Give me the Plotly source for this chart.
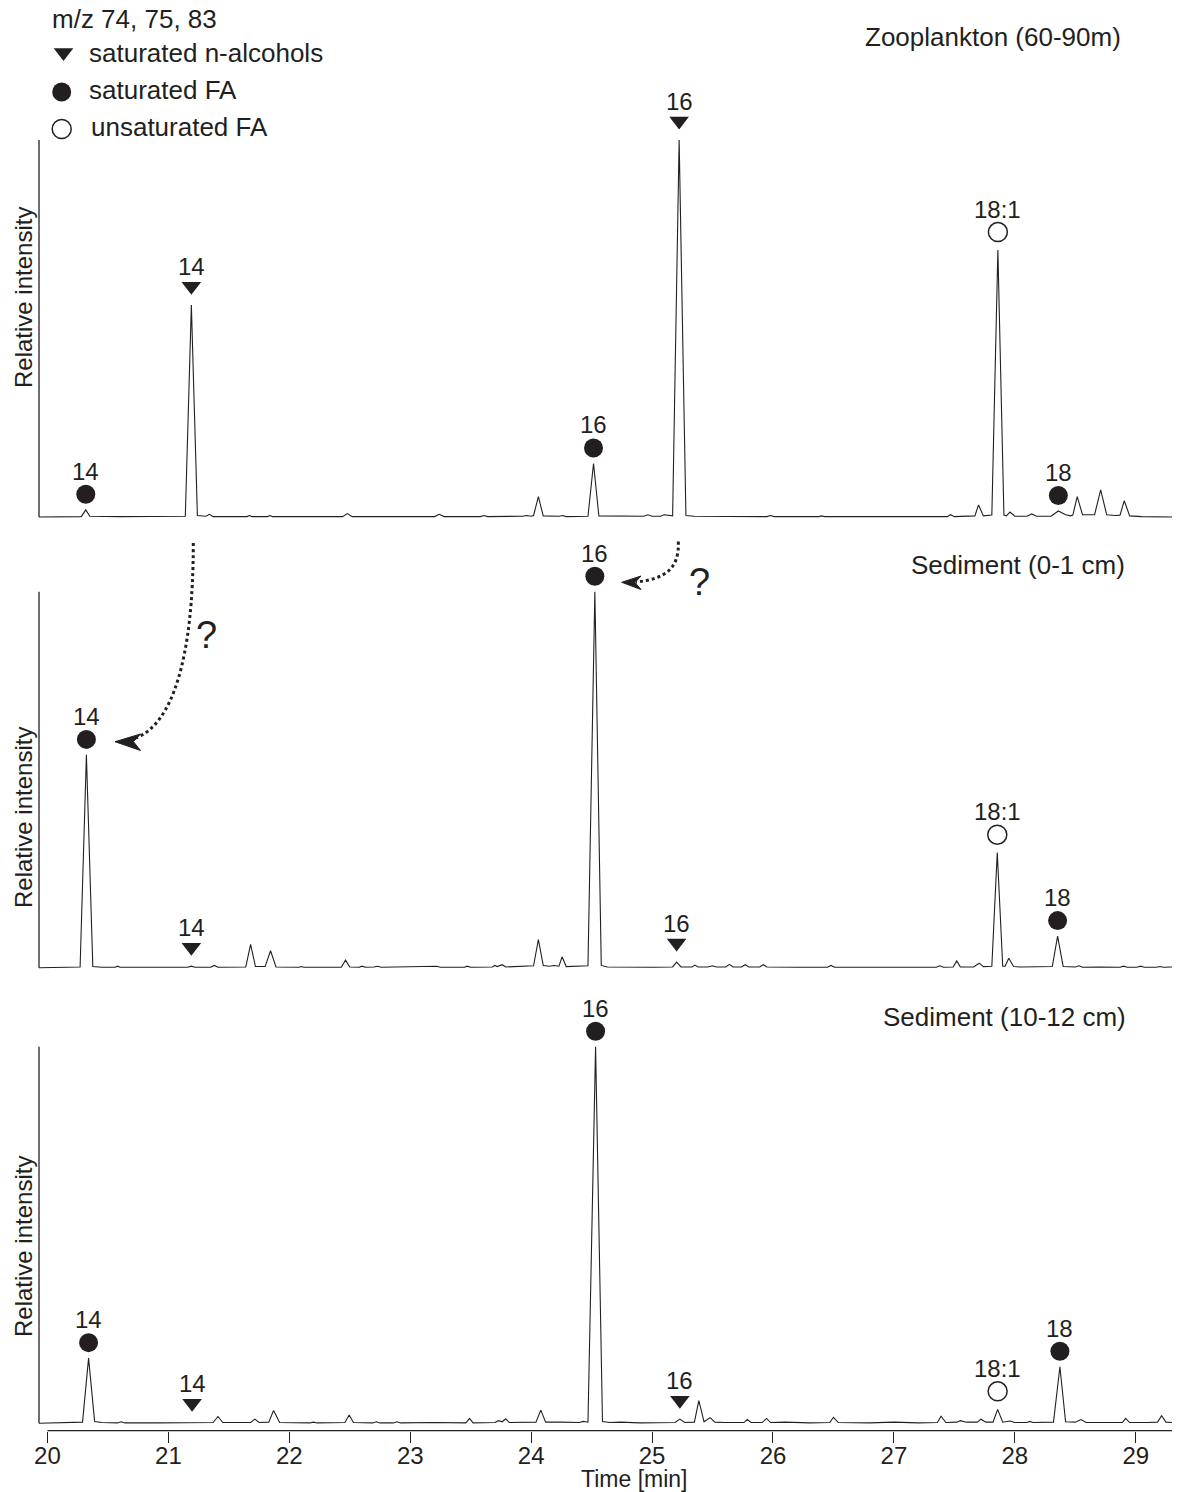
import plotly.graph_objects as go

# ---------------- data ----------------
# chromatogram vertices: (retention time [min], relative intensity [% of panel height])
zoo_points = [
    (19.93, 0.0), (20.28, 0.1), (20.317, 1.9), (20.35, 0.2), (20.60, 0.1),
    (21.14, 0.2), (21.19, 56.2), (21.24, 0.4), (21.31, 0.2), (21.34, 0.7), (21.37, 0.1),
    (21.65, 0.1), (21.67, 0.4), (21.69, 0.1), (21.82, 0.1), (21.84, 0.4), (21.86, 0.1),
    (22.44, 0.1), (22.48, 0.9), (22.52, 0.1), (23.20, 0.1), (23.24, 0.7), (23.28, 0.1),
    (23.58, 0.1), (23.61, 0.4), (23.64, 0.1), (23.93, 0.2), (23.96, 0.4), (24.00, 0.2),
    (24.02, 0.4), (24.06, 5.4), (24.10, 0.3), (24.23, 0.2), (24.26, 0.4), (24.29, 0.1),
    (24.47, 0.2), (24.516, 14.2), (24.56, 0.3), (24.93, 0.2), (24.965, 0.6), (25.00, 0.2),
    (25.07, 0.2), (25.10, 0.6), (25.17, 0.3), (25.224, 100.0), (25.28, 0.4), (25.35, 0.2),
    (25.95, 0.1), (25.98, 0.4), (26.01, 0.1), (26.38, 0.1), (26.40, 0.3), (26.43, 0.1),
    (26.53, 0.1), (26.56, 0.3), (26.59, 0.1), (26.96, 0.1), (26.99, 0.3), (27.02, 0.1),
    (27.06, 0.1), (27.09, 0.3), (27.12, 0.1), (27.44, 0.1), (27.47, 0.6), (27.50, 0.1),
    (27.67, 0.3), (27.70, 3.2), (27.74, 0.3), (27.81, 0.5), (27.86, 70.8), (27.91, 0.5),
    (27.93, 0.3), (27.96, 1.3), (28.00, 0.2), (28.10, 0.2), (28.14, 0.8), (28.18, 0.2),
    (28.30, 0.2), (28.36, 1.6), (28.42, 0.6), (28.46, 0.3), (28.48, 0.5), (28.516, 5.4),
    (28.56, 0.6), (28.62, 0.5), (28.66, 0.6), (28.71, 7.2), (28.76, 0.6), (28.83, 0.4),
    (28.87, 0.5), (28.905, 4.3), (28.95, 0.3), (29.05, 0.1), (29.30, 0.0),
]

sed01_points = [
    (19.93, 0.0), (20.27, 0.2), (20.322, 56.6), (20.375, 0.3), (20.45, 0.1),
    (20.56, 0.1), (20.58, 0.4), (20.60, 0.1), (20.90, 0.1), (21.16, 0.1), (21.19, 0.4),
    (21.22, 0.1), (21.35, 0.1), (21.38, 0.6), (21.41, 0.1), (21.64, 0.2), (21.68, 6.2),
    (21.72, 0.3), (21.80, 0.3), (21.845, 4.5), (21.89, 0.2), (22.08, 0.1), (22.10, 0.3),
    (22.12, 0.1), (22.43, 0.1), (22.465, 2.0), (22.50, 0.2), (22.58, 0.1), (22.60, 0.4),
    (22.63, 0.1), (22.70, 0.2), (22.73, 0.4), (22.76, 0.1), (23.20, 0.2), (23.22, 0.4),
    (23.25, 0.1), (23.45, 0.1), (23.47, 0.4), (23.50, 0.1), (23.68, 0.2), (23.70, 0.6),
    (23.72, 0.3), (23.76, 0.8), (23.79, 0.2), (23.95, 0.3), (24.02, 0.5), (24.06, 7.5),
    (24.10, 0.6), (24.15, 0.4), (24.19, 0.6), (24.23, 0.4), (24.256, 2.9), (24.29, 0.3),
    (24.40, 0.3), (24.47, 0.5), (24.527, 100.0), (24.58, 0.6), (24.63, 0.2), (24.80, 0.1),
    (25.00, 0.1), (25.17, 0.2), (25.203, 1.5), (25.24, 0.2), (25.33, 0.2), (25.354, 0.7),
    (25.38, 0.2), (25.46, 0.2), (25.50, 0.5), (25.53, 0.2), (25.61, 0.2), (25.64, 0.9),
    (25.67, 0.2), (25.74, 0.2), (25.77, 0.8), (25.80, 0.2), (25.89, 0.2), (25.92, 0.8),
    (25.95, 0.2), (26.20, 0.1), (26.45, 0.1), (26.48, 0.6), (26.51, 0.1), (26.90, 0.1),
    (27.20, 0.2), (27.35, 0.1), (27.38, 0.5), (27.41, 0.1), (27.49, 0.2), (27.52, 1.8),
    (27.55, 0.2), (27.66, 0.2), (27.705, 1.2), (27.74, 0.3), (27.81, 0.4), (27.855, 30.6),
    (27.90, 0.4), (27.92, 0.4), (27.95, 2.5), (27.99, 0.3), (28.05, 0.2), (28.31, 0.3),
    (28.354, 8.4), (28.40, 0.3), (28.50, 0.2), (28.53, 0.5), (28.56, 0.1), (28.70, 0.2),
    (28.87, 0.1), (28.90, 0.4), (28.93, 0.1), (29.01, 0.1), (29.04, 0.4), (29.07, 0.1),
    (29.17, 0.1), (29.20, 0.3), (29.23, 0.1), (29.30, 0.2),
]

sed1012_points = [
    (19.93, 0.0), (20.20, 0.1), (20.29, 0.3), (20.34, 17.3), (20.39, 0.5), (20.45, 0.2),
    (20.58, 0.1), (20.61, 0.4), (20.64, 0.1), (20.90, 0.1), (21.17, 0.1), (21.196, 0.3),
    (21.22, 0.1), (21.37, 0.2), (21.41, 1.8), (21.45, 0.2), (21.68, 0.2), (21.715, 1.1),
    (21.75, 0.2), (21.83, 0.3), (21.87, 3.4), (21.92, 0.2), (22.17, 0.1), (22.20, 0.3),
    (22.23, 0.1), (22.46, 0.2), (22.495, 2.2), (22.53, 0.2), (22.69, 0.1), (22.72, 0.4),
    (22.75, 0.1), (22.86, 0.1), (22.89, 0.4), (22.92, 0.1), (23.20, 0.2), (23.46, 0.1),
    (23.49, 1.3), (23.52, 0.1), (23.70, 0.2), (23.73, 0.7), (23.76, 0.4), (23.79, 1.2),
    (23.82, 0.2), (23.95, 0.2), (24.04, 0.3), (24.08, 3.5), (24.12, 0.3), (24.25, 0.3),
    (24.40, 0.2), (24.43, 0.5), (24.47, 0.3), (24.533, 100.0), (24.59, 0.5), (24.65, 0.2),
    (24.74, 0.3), (24.90, 0.1), (25.19, 0.2), (25.23, 1.1), (25.27, 0.2), (25.35, 0.3),
    (25.387, 6.0), (25.43, 0.4), (25.48, 1.5), (25.52, 0.3), (25.60, 0.2), (25.76, 0.2),
    (25.787, 1.0), (25.82, 0.2), (25.91, 0.2), (25.947, 1.3), (25.98, 0.2), (26.10, 0.3),
    (26.30, 0.1), (26.47, 0.2), (26.50, 1.6), (26.54, 0.2), (26.80, 0.1), (27.00, 0.3),
    (27.20, 0.1), (27.36, 0.2), (27.39, 1.9), (27.43, 0.2), (27.52, 0.3), (27.55, 0.7),
    (27.60, 0.3), (27.69, 0.3), (27.72, 1.1), (27.76, 0.3), (27.82, 0.3), (27.858, 3.7),
    (27.90, 0.3), (27.96, 0.6), (28.00, 0.2), (28.10, 0.2), (28.125, 0.5), (28.15, 0.2),
    (28.32, 0.3), (28.373, 15.0), (28.42, 0.4), (28.50, 0.3), (28.547, 1.0), (28.59, 0.2),
    (28.75, 0.2), (28.89, 0.2), (28.916, 1.3), (28.95, 0.2), (29.10, 0.2), (29.18, 0.3),
    (29.214, 2.0), (29.25, 0.3), (29.30, 0.2),
]

# identified compounds: retention time of the labelled apex, label, compound class
zoo_label_time = [20.317, 21.19, 24.516, 25.224, 27.86, 28.36]
sed01_label_time = [20.322, 21.19, 24.527, 25.203, 27.855, 28.354]
sed1012_label_time = [20.34, 21.196, 24.533, 25.23, 27.858, 28.373]
label_text = ["14", "14", "16", "16", "18:1", "18"]
label_class = ["FA", "ALC", "FA", "ALC", "UFA", "FA"]

panel_titles = ["Zooplankton (60-90m)", "Sediment (0-1 cm)", "Sediment (10-12 cm)"]
class_names = {"ALC": "saturated n-alcohols", "FA": "saturated FA", "UFA": "unsaturated FA"}
legend_title = "m/z 74, 75, 83"
tick_values = [20, 21, 22, 23, 24, 25, 26, 27, 28, 29]
x_title = "Time [min]"
y_title = "Relative intensity"

# ---------------- layout geometry (pixels) ----------------
W, H = 1182, 1492
ML, MR = 39, 10
PW = W - ML - MR
X_RANGE = [19.93, 29.30]
PAD = 0.5          # intensity units below 0
HEAD_PX = 32       # room above 100 % for markers (px)
FONT = "Liberation Sans, Arial, Helvetica, sans-serif"
INK = "#231f20"

def fx(px):
    return (px - ML) / PW

def fy(py):
    return 1 - py / H

# (pixel of intensity 0, pixel of intensity 100, title y, title right x, y-title centre)
panel_geom = [
    (517.0, 140.0, 36.5, 1123.0, 298.0),
    (967.7, 591.7, 565.0, 1126.5, 818.0),
    (1423.3, 1046.7, 1016.5, 1128.0, 1247.0),
]
panel_data = [
    (zoo_points, zoo_label_time),
    (sed01_points, sed01_label_time),
    (sed1012_points, sed1012_label_time),
]

# marker centre / label centre offsets above the apex (px)
MARK_OFF = {"ALC": 19.0, "FA": 15.5, "UFA": 18.0}
LABEL_OFF = {"ALC": 39.0, "FA": 38.5, "UFA": 41.0}
SYMBOL = {"ALC": ("triangle-down", 17), "FA": ("circle", 19), "UFA": ("circle-open", 19)}

fig = go.Figure()
annotations = []
shapes = []
layout_axes = {}

for k, ((pts, ltimes), (y0px, y100px, ty, trx, ylab_y)) in enumerate(zip(panel_data, panel_geom)):
    n = "" if k == 0 else str(k + 1)
    xa, ya = "x" + n, "y" + n
    ppu = (y0px - y100px) / 100.0
    ytop = 100.0 + HEAD_PX / ppu
    dom = [fy(y0px + PAD * ppu), fy(y100px - HEAD_PX)]
    times = [p[0] for p in pts]
    ints = [p[1] for p in pts]
    fig.add_trace(go.Scatter(x=times, y=ints, mode="lines", xaxis=xa, yaxis=ya,
                             line=dict(color=INK, width=1.1), showlegend=False,
                             hoverinfo="skip"))
    apex = dict(zip(times, ints))
    for cls in ["ALC", "FA", "UFA"]:
        sel = [i for i, c in enumerate(label_class) if c == cls]
        xs = [ltimes[i] for i in sel]
        ys = [apex[ltimes[i]] + MARK_OFF[cls] / ppu for i in sel]
        sym, size = SYMBOL[cls]
        fig.add_trace(go.Scatter(
            x=xs, y=ys, mode="markers", xaxis=xa, yaxis=ya, cliponaxis=False,
            marker=dict(symbol=sym, size=size, color=INK,
                        line=dict(color=INK, width=1.5 if cls == "UFA" else 0)),
            showlegend=False, hoverinfo="skip"))
    for i, t in enumerate(ltimes):
        annotations.append(dict(x=t, y=apex[t], xref=xa, yref=ya, text=label_text[i],
                                showarrow=False, yshift=LABEL_OFF[label_class[i]],
                                xanchor="center", yanchor="middle",
                                font=dict(family=FONT, size=24, color=INK)))
    annotations.append(dict(x=fx(trx), y=fy(ty), xref="paper", yref="paper",
                            text=panel_titles[k], showarrow=False, xanchor="right",
                            yanchor="middle", font=dict(family=FONT, size=26, color=INK)))
    annotations.append(dict(x=fx(23), y=fy(ylab_y), xref="paper", yref="paper",
                            text=y_title, textangle=-90, showarrow=False,
                            xanchor="center", yanchor="middle",
                            font=dict(family=FONT, size=24, color=INK)))
    # intensity axis line spans 0-100 % of the panel
    shapes.append(dict(type="line", xref="paper", yref="paper", x0=0, x1=0,
                       y0=fy(y0px), y1=fy(y100px), line=dict(color=INK, width=1.3)))
    xdef = dict(domain=[0, 1], range=X_RANGE, showgrid=False, zeroline=False,
                showline=False, fixedrange=True)
    if k < 2:
        xdef.update(visible=False, anchor=ya)
    else:
        xdef.update(anchor="free", position=fy(1430.7), ticks="outside", ticklen=11,
                    tickwidth=1.3, tickcolor=INK, tickvals=tick_values,
                    ticktext=[str(v) for v in tick_values], ticklabelstandoff=-8,
                    tickfont=dict(family=FONT, size=24, color=INK))
    layout_axes["xaxis" + n] = xdef
    layout_axes["yaxis" + n] = dict(domain=dom, range=[-PAD, ytop], anchor=xa,
                                    showline=False, ticks="", showticklabels=False,
                                    showgrid=False, zeroline=False, fixedrange=True)

# bottom time axis line (starts at 20 min)
shapes.append(dict(type="line", xref="x3", yref="paper", x0=20, x1=X_RANGE[1],
                   y0=fy(1430.7), y1=fy(1430.7), line=dict(color=INK, width=1.3)))
annotations.append(dict(x=fx(634), y=fy(1479), xref="paper", yref="paper", text=x_title,
                        showarrow=False, xanchor="center", yanchor="middle",
                        font=dict(family=FONT, size=23, color=INK)))

# ---------------- legend (pixel overlay axes) ----------------
layout_axes["xaxis4"] = dict(domain=[0, 1], range=[ML, W - MR], visible=False,
                             anchor="y4", overlaying="x", fixedrange=True)
layout_axes["yaxis4"] = dict(domain=[0, 1], range=[H, 0], visible=False,
                             anchor="x4", fixedrange=True)
legend_rows = [("ALC", 63.5, 52.5, 86.7, 53.5), ("FA", 61.7, 92.0, 86.7, 90.5),
               ("UFA", 61.7, 129.0, 89.3, 127.0)]
for cls, mx, my, tx, tyy in legend_rows:
    sym, size = SYMBOL[cls]
    fig.add_trace(go.Scatter(
        x=[mx], y=[my], mode="markers", xaxis="x4", yaxis="y4", cliponaxis=False,
        marker=dict(symbol=sym, size=size, color=INK,
                    line=dict(color=INK, width=1.5 if cls == "UFA" else 0)),
        showlegend=False, hoverinfo="skip"))
    annotations.append(dict(x=fx(tx), y=fy(tyy), xref="paper", yref="paper",
                            text=class_names[cls], showarrow=False, xanchor="left",
                            yanchor="middle", font=dict(family=FONT, size=26, color=INK)))
annotations.append(dict(x=fx(50), y=fy(18.5), xref="paper", yref="paper",
                        text=legend_title, showarrow=False, xanchor="left",
                        yanchor="middle", font=dict(family=FONT, size=26, color=INK)))

# ---------------- dotted "?" arrows ----------------
def path(cmds):
    out = []
    for cmd, pts in cmds:
        if not pts:
            out.append(cmd)
            continue
        coords = " ".join(f"{fx(px):.5f},{fy(py):.5f}" for px, py in pts)
        out.append(cmd + coords)
    return " ".join(out)

arrow_curves = [
    [("M", [(193.3, 543.0)]), ("C", [(193.3, 660.0), (172.0, 724.0), (136.0, 738.0)])],
    [("M", [(678.3, 541.5)]), ("C", [(679.5, 568.0), (666.0, 579.0), (636.0, 582.0)])],
]
arrow_heads = [
    [("M", [(115.0, 741.7)]), ("L", [(140.5, 734.0)]), ("L", [(133.5, 741.7)]),
     ("L", [(140.5, 750.5)]), ("Z", [])],
    [("M", [(621.7, 582.3)]), ("L", [(641.0, 576.0)]), ("L", [(635.0, 582.5)]),
     ("L", [(641.0, 589.5)]), ("Z", [])],
]
for c in arrow_curves:
    shapes.append(dict(type="path", xref="paper", yref="paper", path=path(c),
                       line=dict(color=INK, width=3, dash="dot")))
for hd in arrow_heads:
    shapes.append(dict(type="path", xref="paper", yref="paper", path=path(hd),
                       fillcolor=INK, line=dict(color=INK, width=1)))
for qx, qy in [(206.7, 635.0), (699.0, 582.0)]:
    annotations.append(dict(x=fx(qx), y=fy(qy), xref="paper", yref="paper", text="?",
                            showarrow=False, xanchor="center", yanchor="middle",
                            font=dict(family=FONT, size=38, color=INK)))

fig.update_layout(
    width=W, height=H, margin=dict(l=ML, r=MR, t=0, b=0, pad=0),
    paper_bgcolor="white", plot_bgcolor="rgba(0,0,0,0)",
    showlegend=False, hovermode=False,
    annotations=annotations, shapes=shapes, **layout_axes,
)

fig.write_html("out.html", config={"displayModeBar": False})
